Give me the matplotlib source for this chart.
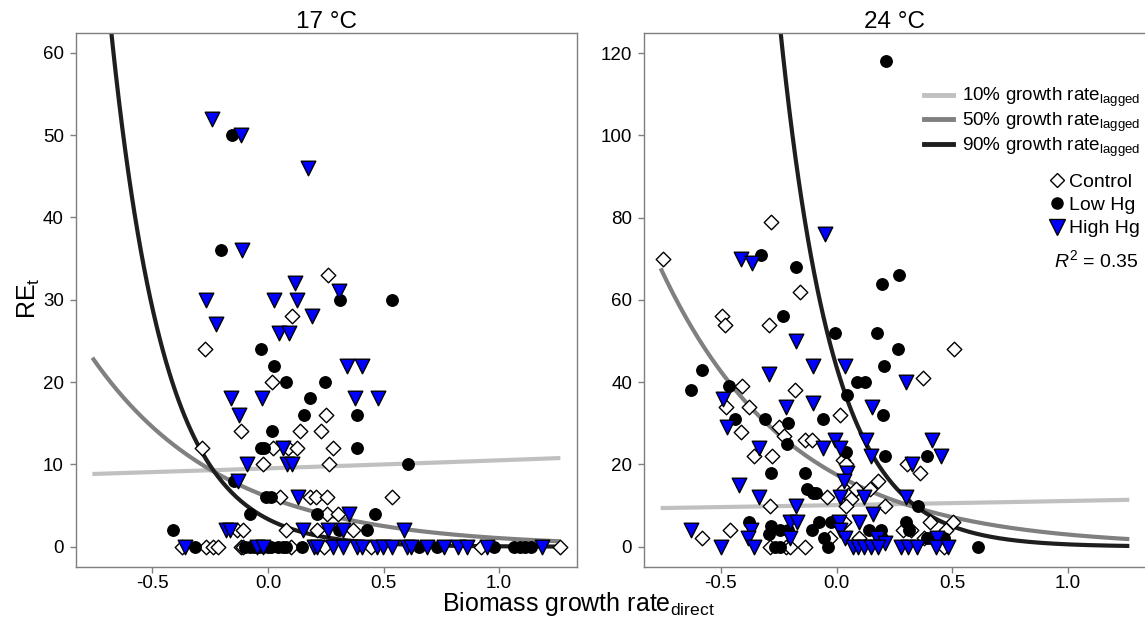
import numpy as np
import matplotlib
matplotlib.use("Agg")
import matplotlib.pyplot as plt
from matplotlib.lines import Line2D

plt.rcParams['font.family'] = ['Liberation Sans', 'DejaVu Sans']
plt.rcParams['mathtext.fontset'] = 'custom'
plt.rcParams['mathtext.rm'] = 'Liberation Sans'
plt.rcParams['mathtext.it'] = 'Liberation Sans:italic'
plt.rcParams['mathtext.default'] = 'regular'

# ---------------- data: 17 °C ----------------
c17_ctrl_x = [-0.274, 0.261, 0.102, 0.016, 0.25, -0.117, 0.139, 0.228, -0.287, 0.023, 0.088, 0.124,
              0.281, -0.022, 0.264, 0.052, 0.182, 0.208, 0.257, 0.535, 0.254, 0.304, -0.133, -0.110,
              0.076, 0.214, 0.369, -0.371, -0.27, -0.237, -0.216, -0.118, -0.107, 0.098, 0.242, 0.444,
              0.921, 1.263]
c17_ctrl_y = [24, 33, 28, 20, 16, 14, 14, 14, 12, 12, 12, 12,
              12, 10, 10, 6, 6, 6, 6, 6, 4, 4, 2, 2,
              2, 2, 2, 0, 0, 0, 0, 0, 0, 0, 0, 0,
              0, 0]
c17_low_x = [-0.154, -0.205, 0.312, 0.538, -0.032, 0.026, 0.079, 0.245, 0.182, 0.157, 0.384, 0.017,
             -0.032, -0.017, 0.387, 0.607, -0.147, -0.007, 0.012, -0.078, 0.211, 0.462, -0.411, 0.307,
             0.430, -0.315, -0.10, -0.08, -0.06, -0.04, -0.02, 0.0, 0.015, 0.045, 0.065, 0.08, 0.149,
             0.654, 0.733, 0.978, 1.065, 1.09, 1.11, 1.137]
c17_low_y = [50, 36, 30, 30, 24, 22, 20, 20, 18, 16, 16, 14,
             12, 12, 12, 10, 8, 6, 6, 4, 4, 4, 2, 2,
             2, 0, 0, 0, 0, 0, 0, 0, 0, 0, 0, 0, 0,
             0, 0, 0, 0, 0, 0, 0]
c17_high_x = [-0.241, -0.115, 0.175, -0.111, 0.117, 0.307, -0.267, 0.027, 0.124, 0.192, -0.227, 0.048,
              0.091, 0.343, 0.408, -0.162, -0.025, 0.377, 0.476, -0.126, 0.066, -0.092, 0.084, 0.105,
              -0.128, 0.130, 0.352, -0.183, -0.165, 0.153, 0.260, 0.326, 0.589, -0.361, -0.046, -0.022,
              0.199, 0.214, 0.283, 0.326, 0.384, 0.408, 0.473, 0.499, 0.538, 0.603, 0.620, 0.690,
              0.762, 0.820, 0.863, 0.949, 1.185]
c17_high_y = [52, 50, 46, 36, 32, 31, 30, 30, 30, 28, 27, 26,
              26, 22, 22, 18, 18, 18, 18, 16, 12, 10, 10, 10,
              8, 6, 4, 2, 2, 2, 2, 2, 2, 0, 0, 0,
              0, 0, 0, 0, 0, 0, 0, 0, 0, 0, 0, 0,
              0, 0, 0, 0, 0]

# ---------------- data: 24 °C ----------------
c24_ctrl_x = [-0.283, -0.751, -0.159, -0.493, -0.483, -0.294, 0.507, 0.372, -0.408, -0.178, -0.478, -0.378,
              0.013, -0.411, -0.249, -0.228, -0.138, -0.106, -0.358, -0.279, 0.028, 0.042, 0.304, 0.361,
              0.177, -0.043, 0.034, 0.049, 0.061, 0.084, 0.145, -0.288, 0.039, 0.211, 0.034, 0.402,
              0.501, -0.460, 0.286, 0.321, 0.471, -0.583, -0.028, 0.099, 0.376, -0.288, -0.22, -0.2,
              -0.138, 0.466]
c24_ctrl_y = [79, 70, 62, 56, 54, 54, 48, 41, 39, 38, 34, 34,
              32, 28, 29, 27, 26, 26, 22, 22, 21, 20, 20, 18,
              16, 12, 14, 12.6, 11.6, 14, 14, 10, 10, 10, 6, 6,
              6, 4, 4, 4, 4, 2, 2, 2, 2, 0, 0, 0,
              0, 0]
c24_low_x = [0.214, -0.328, -0.175, 0.268, 0.196, -0.231, -0.006, 0.174, 0.264, -0.583, 0.207, 0.087,
             0.121, -0.631, -0.463, 0.046, -0.438, -0.310, -0.058, 0.201, -0.208, -0.213, 0.039, 0.211,
             0.391, -0.283, -0.136, -0.126, -0.103, -0.088, 0.351, -0.378, -0.283, -0.076, -0.025, 0.301,
             -0.291, -0.243, -0.208, -0.106, 0.139, 0.193, 0.313, -0.054, 0.196, 0.391, 0.406, 0.466,
             -0.268, -0.246, -0.036, 0.613]
c24_low_y = [118, 71, 68, 66, 64, 56, 52, 52, 48, 43, 44, 40,
             40, 38, 39, 37, 31, 31, 31, 32, 30, 25, 23, 22,
             22, 18, 18, 14, 13, 13, 10, 6, 5, 6, 6, 6,
             3, 4, 4, 4, 4, 4, 4, 2, 2, 2, 2, 2,
             0, 0, 0, 0]
c24_high_x = [-0.049, -0.411, -0.366, -0.175, -0.100, 0.036, -0.291, 0.301, -0.49, -0.220, -0.103, 0.154,
              -0.475, -0.006, 0.129, 0.414, -0.333, -0.058, 0.016, 0.147, 0.451, 0.324, 0.043, -0.421,
              0.031, -0.336, 0.013, 0.117, 0.301, -0.175, 0.159, -0.201, -0.171, 0.009, 0.099, -0.631,
              -0.37, 0.016, -0.381, -0.201, 0.036, 0.174, 0.211, 0.436, -0.5, -0.358, 0.073, 0.094,
              0.117, 0.148, 0.181, 0.279, 0.309, 0.346, 0.429, 0.481]
c24_high_y = [76, 70, 69, 50, 44, 44, 42, 40, 36, 34, 35, 34,
              29, 26, 26, 26, 24, 24, 24, 22, 22, 20, 18, 15,
              16, 12, 12, 12, 12, 10, 8, 6, 6, 6, 6, 4,
              4, 4, 2, 2, 2, 2, 1, 2, 0, 0, 0, 0,
              0, 0, 0, 0, 0, 0, 0, 0]

# fitted exponential quantile curves  y = a * exp(b * x)
quantile_labels = ['10%', '50%', '90%']
quantile_colors = ['#c0c0c0', '#808080', '#1e1e1e']
c17_curve_a = [9.51, 6.03, 3.34]
c17_curve_b = [0.098, -1.759, -4.32]
c24_curve_a = [10.1, 17.5, 43.7]
c24_curve_b = [0.0957, -1.78, -4.35]
curve_xrange = (-0.76, 1.265)

groups = ['Control', 'Low Hg', 'High Hg']

fig = plt.figure(figsize=(11.45, 6.19), dpi=100)
W, H = 1145, 619
axL = fig.add_axes([75.7 / W, (H - 567) / H, 501.3 / W, 534.3 / H])
axR = fig.add_axes([644 / W, (H - 567) / H, 502 / W, 534.3 / H])

def style(ax, ylim, yticks):
    ax.set_xlim(-0.832, 1.337)
    ax.set_ylim(*ylim)
    ax.set_xticks([-0.5, 0.0, 0.5, 1.0])
    ax.set_xticklabels(['-0.5', '0.0', '0.5', '1.0'])
    ax.set_yticks(yticks)
    for s in ax.spines.values():
        s.set_color('#7f7f7f')
        s.set_linewidth(1.0)
    ax.tick_params(axis='both', colors='#7f7f7f', labelcolor='black', labelsize=13.5,
                   length=4, width=1.0)
    ax.tick_params(axis='x', pad=1.5)
    ax.tick_params(axis='y', pad=4.5)

def draw(ax, cx, cy, lx, ly, hx, hy, ca, cb):
    xs = np.linspace(curve_xrange[0], curve_xrange[1], 300)
    for a, b, col in zip(ca, cb, quantile_colors):
        ax.plot(xs, a * np.exp(b * xs), color=col, lw=3.0, zorder=2, solid_capstyle='butt')
    ax.scatter(cx, cy, marker='D', s=55, facecolor='white', edgecolor='black', linewidths=1.0, zorder=3)
    ax.scatter(lx, ly, marker='o', s=68, facecolor='black', edgecolor='black', linewidths=1.0, zorder=3)
    ax.scatter(hx, hy, marker='v', s=110, facecolor='#0000ff', edgecolor='black', linewidths=1.0, zorder=3)

draw(axL, c17_ctrl_x, c17_ctrl_y, c17_low_x, c17_low_y, c17_high_x, c17_high_y, c17_curve_a, c17_curve_b)
draw(axR, c24_ctrl_x, c24_ctrl_y, c24_low_x, c24_low_y, c24_high_x, c24_high_y, c24_curve_a, c24_curve_b)

style(axL, (-2.47, 62.43), [0, 10, 20, 30, 40, 50, 60])
style(axR, (-4.94, 125.0), [0, 20, 40, 60, 80, 100, 120])

axL.set_title('17 °C', fontsize=17.5, pad=3)
axR.set_title('24 °C', fontsize=17.5, pad=3)

fig.text(0.505, 1 - 611 / H, r'Biomass growth rate$_{\mathregular{direct}}$', ha='center', va='baseline', fontsize=18)
fig.text(29 / W, 1 - 298 / H, r'RE$_{\mathregular{t}}$', ha='center', va='center', rotation=90, fontsize=18)

# legends
line_handles = [Line2D([0], [0], color=c, lw=3.5) for c in quantile_colors]
line_labels = [q + r' growth rate$_{\mathregular{lagged}}$' for q in quantile_labels]
leg1 = axR.legend(line_handles, line_labels, loc='upper right',
                  bbox_to_anchor=(1140 / W, 1 - 86 / H), bbox_transform=fig.transFigure,
                  frameon=False, fontsize=13.6, handlelength=1.55, handletextpad=0.45,
                  labelspacing=0.08, borderpad=0, borderaxespad=0)
axR.add_artist(leg1)

pt_handles = [Line2D([0], [0], marker='D', ls='none', ms=7.5, mfc='white', mec='black', mew=1.0),
              Line2D([0], [0], marker='o', ls='none', ms=8, mfc='black', mec='black'),
              Line2D([0], [0], marker='v', ls='none', ms=11, mfc='#0000ff', mec='black', mew=1.0)]
leg2 = axR.legend(pt_handles, groups, loc='upper right',
                  bbox_to_anchor=(1140 / W, 1 - 173 / H), bbox_transform=fig.transFigure,
                  frameon=False, fontsize=14, handlelength=0.6, handletextpad=0.3,
                  labelspacing=0.3, borderpad=0, borderaxespad=0)

fig.text(1139 / W, 1 - 260 / H, r'$\mathit{R}^{2}$ = 0.35', ha='right', va='center', fontsize=14)

fig.savefig('out.png', dpi=100)
